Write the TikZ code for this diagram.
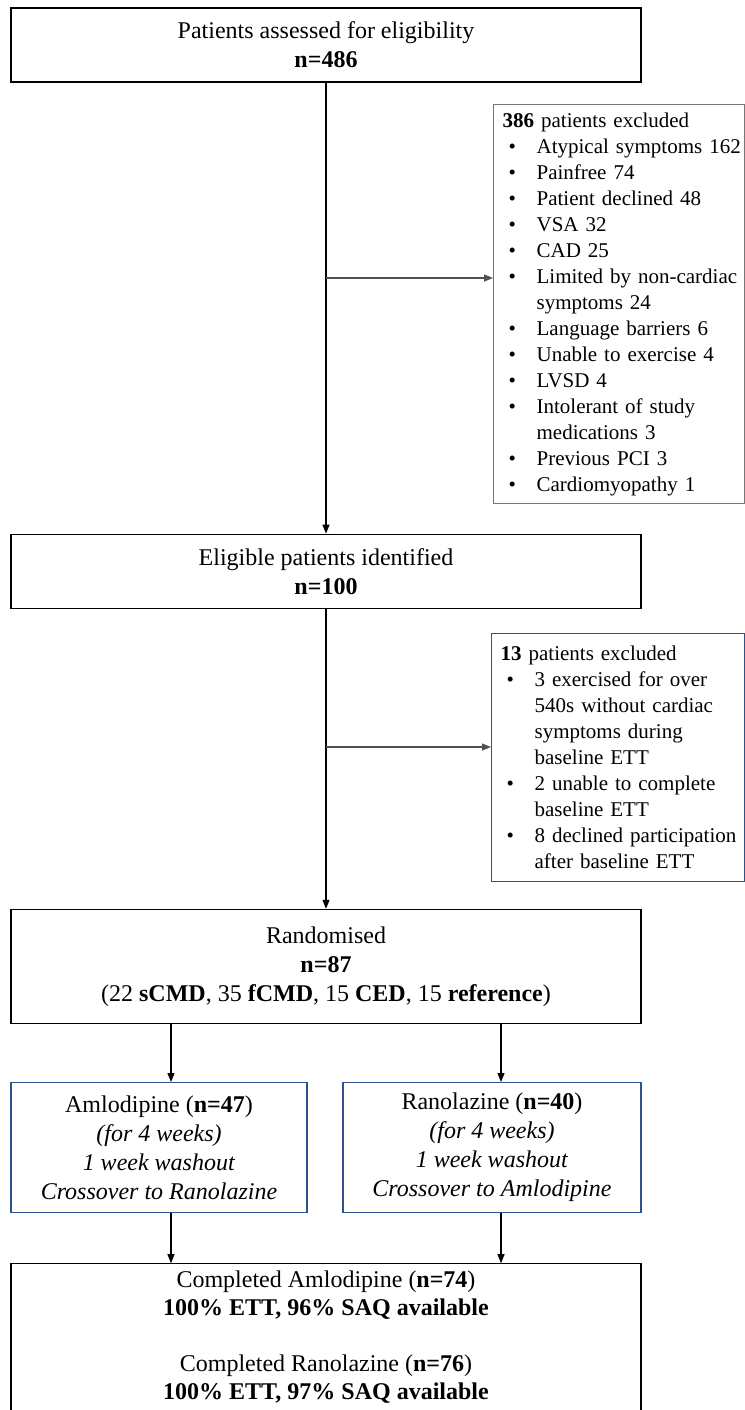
\documentclass[tikz,border=0pt]{standalone}
\usepackage{fontspec}
\setmainfont{Liberation Serif}
\usepackage{tikz}
\usetikzlibrary{arrows.meta, positioning}
\definecolor{exgray}{RGB}{118,118,118}
\definecolor{exblue}{RGB}{47,82,143}
\definecolor{lngray}{RGB}{80,80,80}
\newcommand{\bitem}[1]{\hspace*{3pt}\makebox[14pt][l]{\textbullet}\mbox{#1}}
\newcommand{\bcont}[1]{\hspace*{17pt}\mbox{#1}}
\tikzset{
  mainbox/.style={rectangle, draw=black, line width=0.6pt,
    minimum width=315pt, align=center,
    font=\fontsize{12}{14.5}\selectfont},
  armbox/.style={rectangle, draw=exblue, line width=0.6pt,
    minimum width=148pt, minimum height=65pt, align=center,
    font=\fontsize{12}{14.5}\selectfont},
  exbox/.style={rectangle, line width=0.6pt, align=left, inner xsep=4.5pt,
    font=\fontsize{10.5}{13}\selectfont},
  arrow/.style={-{Triangle[length=4.5pt, width=3.5pt]}, line width=0.6pt, color=black},
  grayarrow/.style={-{Triangle[length=4.5pt, width=3.5pt]}, line width=0.6pt, color=lngray}
}

\begin{document}
\begin{tikzpicture}[x=0.5pt, y=-0.5pt, node distance=25pt]
  \clip (0,0) rectangle (745,1410);
  \node[mainbox, minimum height=37pt] (assess) at (326,45) {Patients assessed for eligibility\\\textbf{n=486}};
  \node[mainbox, minimum height=37pt, below=225.5pt of assess] (elig) {Eligible patients identified\\\textbf{n=100}};
  \node[mainbox, minimum height=57pt, below=150pt of elig] (rand) {Randomised\\\textbf{n=87}\\(22 \textbf{sCMD}, 35 \textbf{fCMD}, 15 \textbf{CED}, 15 \textbf{reference})};
  \node[armbox, below=29pt of rand.south west, anchor=north west] (amlo) {Amlodipine (\textbf{n=47})\\\textit{(for 4 weeks)}\\\textit{1 week washout}\\\textit{Crossover to Ranolazine}};
  \node[armbox, minimum width=149pt, below=29pt of rand.south east, anchor=north east] (rano) {Ranolazine (\textbf{n=40})\\\textit{(for 4 weeks)}\\\textit{1 week washout}\\\textit{Crossover to Amlodipine}};
  \node[mainbox, inner ysep=3.5pt, font=\fontsize{12}{14}\selectfont, below=25pt of amlo.south west, anchor=north west] (done) {Completed Amlodipine (\textbf{n=74})\\\textbf{100\% ETT, 96\% SAQ available}\\[14pt]Completed Ranolazine (\textbf{n=76})\\\textbf{100\% ETT, 97\% SAQ available}};

  \node[exbox, draw=exgray, text width=116.5pt, minimum height=199.5pt, anchor=north west] (excl1) at (493,104) {\textbf{386} patients excluded\\
    \bitem{Atypical symptoms 162}\\
    \bitem{Painfree 74}\\
    \bitem{Patient declined 48}\\
    \bitem{VSA 32}\\
    \bitem{CAD 25}\\
    \bitem{Limited by non-cardiac}\\
    \bcont{symptoms 24}\\
    \bitem{Language barriers 6}\\
    \bitem{Unable to exercise 4}\\
    \bitem{LVSD 4}\\
    \bitem{Intolerant of study}\\
    \bcont{medications 3}\\
    \bitem{Previous PCI 3}\\
    \bitem{Cardiomyopathy 1}};
  \node[exbox, draw=exblue, text width=117.5pt, minimum height=124pt, anchor=north west] (excl2) at (491,633) {\textbf{13} patients excluded\\
    \bitem{3 exercised for over}\\
    \bcont{540s without cardiac}\\
    \bcont{symptoms during}\\
    \bcont{baseline ETT}\\
    \bitem{2 unable to complete}\\
    \bcont{baseline ETT}\\
    \bitem{8 declined participation}\\
    \bcont{after baseline ETT}};

  \coordinate (j1) at (assess.south |- 0,278);
  \coordinate (j2) at (elig.south |- 0,747);
  \coordinate (amlox) at (171,0);
  \coordinate (ranox) at (501,0);

  \draw[arrow] (assess) -- (elig);
  \draw[grayarrow] (j1) -- (j1 -| excl1.west);
  \draw[arrow] (elig) -- (rand);
  \draw[grayarrow] (j2) -- (j2 -| excl2.west);
  \draw[arrow] (rand.south -| amlox) -- (amlo.north -| amlox);
  \draw[arrow] (rand.south -| ranox) -- (rano.north -| ranox);
  \draw[arrow] (amlo.south -| amlox) -- (done.north -| amlox);
  \draw[arrow] (rano.south -| ranox) -- (done.north -| ranox);
\end{tikzpicture}
\end{document}
